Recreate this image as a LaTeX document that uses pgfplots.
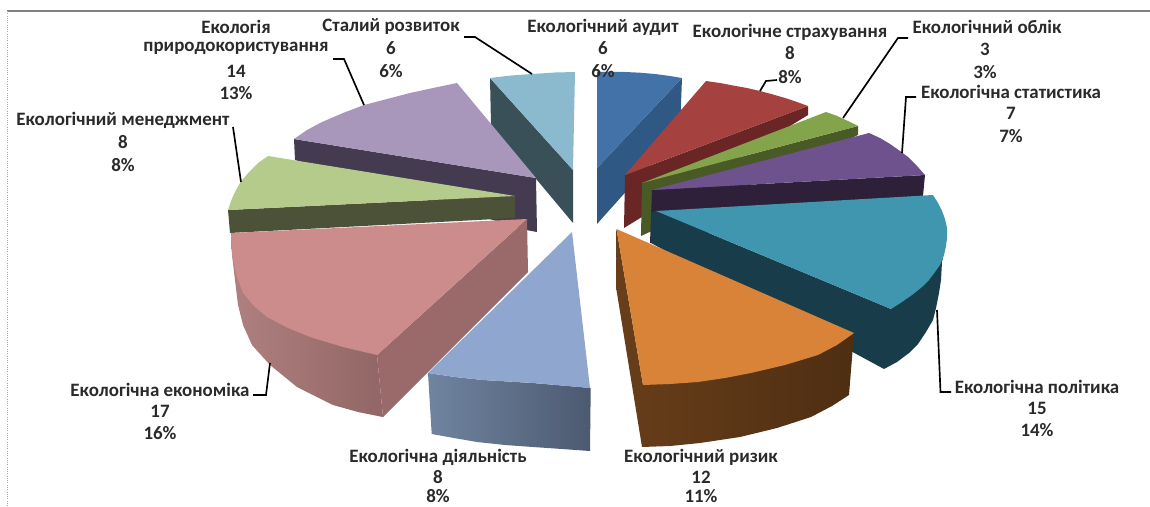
\documentclass[border=0pt]{standalone}
\usepackage{pgfplots}
\pgfplotsset{compat=1.18}
\usepackage{fontspec}
\setmainfont{Carlito}
\definecolor{txt}{HTML}{2A2A2A}
\newcommand{\lab}[3]{\node[font=\bfseries\fontsize{14.2}{15}\selectfont,text=txt,anchor=center,inner sep=0pt] at (axis cs:#1,#2) {#3};}
\begin{document}
\begin{tikzpicture}
\useasboundingbox (0,0) rectangle (862.5pt,380.25pt);
\begin{axis}[
  at={(0,0)}, anchor=south west,
  scale only axis, width=862.5pt, height=380.25pt,
  xmin=0, xmax=1150, ymin=0, ymax=507, y dir=reverse,
  axis lines=none, clip=false, ticks=none]
% frame
\addplot[draw=gray, line width=0.9pt] coordinates {(7,11) (1150,11)};
\addplot[draw=gray!70, line width=0.7pt, densely dotted] coordinates {(7,11) (7,507)};
% ice blue
\addplot[fill={rgb,255:red,58;green,80;blue,88},draw=none] coordinates {(490,78) (491,125) (573,223) (573,170)} --cycle;
\addplot[fill={rgb,255:red,139;green,186;blue,207},draw=none] coordinates {(490,78) (511,75.5) (532,74) (555,72.5) (575,72) (573,170)} --cycle;
% lilac
\addplot[fill={rgb,255:red,68;green,59;blue,80},draw=none] coordinates {(294,139) (536,178) (537,232) (526,230) (295,160)} --cycle;
\addplot[fill={rgb,255:red,168;green,151;blue,187},draw=none] coordinates {(457,83) (433,88) (410,93) (387,99) (364,105) (343,113) (322,122) (307,130) (294,139) (536,178)} --cycle;
% olive
\addplot[fill={rgb,255:red,76;green,82;blue,55},draw=none] coordinates {(228,210) (230,233) (515,218) (515,196)} --cycle;
\addplot[fill={rgb,255:red,181;green,203;blue,139},draw=none] coordinates {(268,156) (258,163) (249,172) (240.5,182) (235,192) (231,201) (228,210) (515,196)} --cycle;
% pink
\addplot[left color={rgb,255:red,176;green,128;blue,128},right color={rgb,255:red,146;green,102;blue,102},draw=none] coordinates {(231,233) (232,255) (235,280) (238,305) (243,325) (252,345) (270,365) (297,387) (333,405) (358,412) (383,417) (377,355)} --cycle;
\addplot[fill={rgb,255:red,154;green,106;blue,106},draw=none] coordinates {(527,219) (528,272) (383,417) (377,355)} --cycle;
\addplot[fill={rgb,255:red,204;green,140;blue,140},draw=none] coordinates {(231,233) (231,245) (233,260) (237,277) (243,293) (254,306) (267,317) (288,328) (310,337) (343,347) (377,355) (527,219)} --cycle;
% blue
\addplot[fill={rgb,255:red,47;green,88;blue,133},draw=none] coordinates {(682,78) (680,131) (597,224) (597,168)} --cycle;
\addplot[fill={rgb,255:red,67;green,114;blue,168},draw=none] coordinates {(597,72) (610,71.7) (625,72) (640,72.7) (655,74) (670,76) (682,78) (597,168)} --cycle;
% red
\addplot[fill={rgb,255:red,106;green,38;blue,36},draw=none] coordinates {(625,175) (808,106) (808,115) (624,228)} --cycle;
\addplot[fill={rgb,255:red,165;green,65;blue,62},draw=none] coordinates {(706,81) (720,83) (733,85.5) (747,88) (760,91) (773,94.5) (785,98) (797,102) (808,106) (625,175)} --cycle;
% green
\addplot[fill={rgb,255:red,74;green,90;blue,39},draw=none] coordinates {(642,183) (858,126) (858,135) (641,236)} --cycle;
\addplot[fill={rgb,255:red,132;green,164;blue,75},draw=none] coordinates {(826,112) (836,115.5) (848,121) (858,126) (642,183)} --cycle;
% purple
\addplot[fill={rgb,255:red,46;green,32;blue,56},draw=none] coordinates {(652,190) (925,175) (923,196) (650,243)} --cycle;
\addplot[fill={rgb,255:red,110;green,82;blue,142},draw=none] coordinates {(869,133) (880,138) (890,144) (900,151) (908,157) (917,166) (925,175) (652,190)} --cycle;
% teal
\addplot[fill={rgb,255:red,24;green,60;blue,74},draw=none] coordinates {(656,211) (651,212) (651,243) (884,369) (897,362) (909,353) (918,344) (926,332) (933,320) (936,308) (939,293) (941,280) (942,262) (947,237) (891,309)} --cycle;
\addplot[fill={rgb,255:red,63;green,150;blue,174},draw=none] coordinates {(656,211) (933,195) (938,203) (942,211) (945,219) (947,228) (947,237) (946,246) (944,255) (940,265) (935,272) (929,280) (922,287) (912,295) (902,302) (891,309)} --cycle;
% orange
\addplot[left color={rgb,255:red,104;green,62;blue,26},right color={rgb,255:red,78;green,46;blue,18},draw=none] coordinates {(616.5,229) (616,287) (642,447) (670,446) (700,443) (740,437) (777,428) (811,417) (832,406) (849,395) (854,333) (643,385)} --cycle;
\addplot[fill={rgb,255:red,217;green,131;blue,57},draw=none] coordinates {(616.5,229) (854,333) (837,345) (818,355) (785,365) (751,373) (725,378) (698,382) (670,384) (643,385)} --cycle;
% diag blue
\addplot[left color={rgb,255:red,112;green,132;blue,160},right color={rgb,255:red,76;green,90;blue,112},draw=none] coordinates {(428,373) (431.7,434) (454,438) (477,442) (505,445) (533,447) (562,449) (590,451) (590.7,388) (562,385.5) (533,383) (508,381.5) (483,380) (455,377)} --cycle;
\addplot[fill={rgb,255:red,143;green,166;blue,207},draw=none] coordinates {(572,232) (590,388) (562,385.5) (533,383) (508,381.5) (483,380) (455,377) (428,373)} --cycle;
% leaders
\addplot[black,line width=1.25pt] coordinates {(464,37) (475,37) (532,74)};
\addplot[black,line width=1.25pt] coordinates {(333,59) (344,59) (364,105)};
\addplot[black,line width=1.25pt] coordinates {(233,127) (241,182)};
\addplot[black,line width=1.25pt] coordinates {(253,395) (266,395) (270,363)};
\addplot[black,line width=1.25pt] coordinates {(937,310) (940.5,392) (951,392)};
\addplot[black,line width=1.25pt] coordinates {(902,153) (906,97) (916,97)};
\addplot[black,line width=1.25pt] coordinates {(843,118) (898,38) (908,38)};
\addplot[black,line width=1.25pt] coordinates {(760,91) (766,81) (777,80)};
% labels
\lab{603}{27}{Екологічний аудит}\lab{603}{48}{6}\lab{603}{71}{6\%}
\lab{790}{32}{Екологічне страхування}\lab{790}{53}{8}\lab{790}{77}{8\%}
\lab{987}{27}{Екологічний облік}\lab{985}{49}{3}\lab{985}{72}{3\%}
\lab{1011}{92}{Екологічна статистика}\lab{1011}{113}{7}\lab{1011}{136}{7\%}
\lab{1037}{387}{Екологічна політика}\lab{1037}{408}{15}\lab{1037}{430}{14\%}
\lab{701}{457}{Екологічний ризик}\lab{701}{477}{12}\lab{701}{496}{11\%}
\lab{438}{457}{Екологічна діяльність}\lab{438}{477}{8}\lab{438}{496}{8\%}
\lab{160}{390}{Екологічна економіка}\lab{160}{411}{17}\lab{160}{433}{16\%}
\lab{123}{120}{Екологічний менеджмент}\lab{123}{142}{8}\lab{123}{165}{8\%}
\lab{236}{27}{Екологія}\lab{236}{48}{природокористування}\lab{236}{71}{14}\lab{236}{93}{13\%}
\lab{391}{27}{Сталий розвиток}\lab{391}{48}{6}\lab{391}{71}{6\%}
\end{axis}
\end{tikzpicture}
\end{document}
